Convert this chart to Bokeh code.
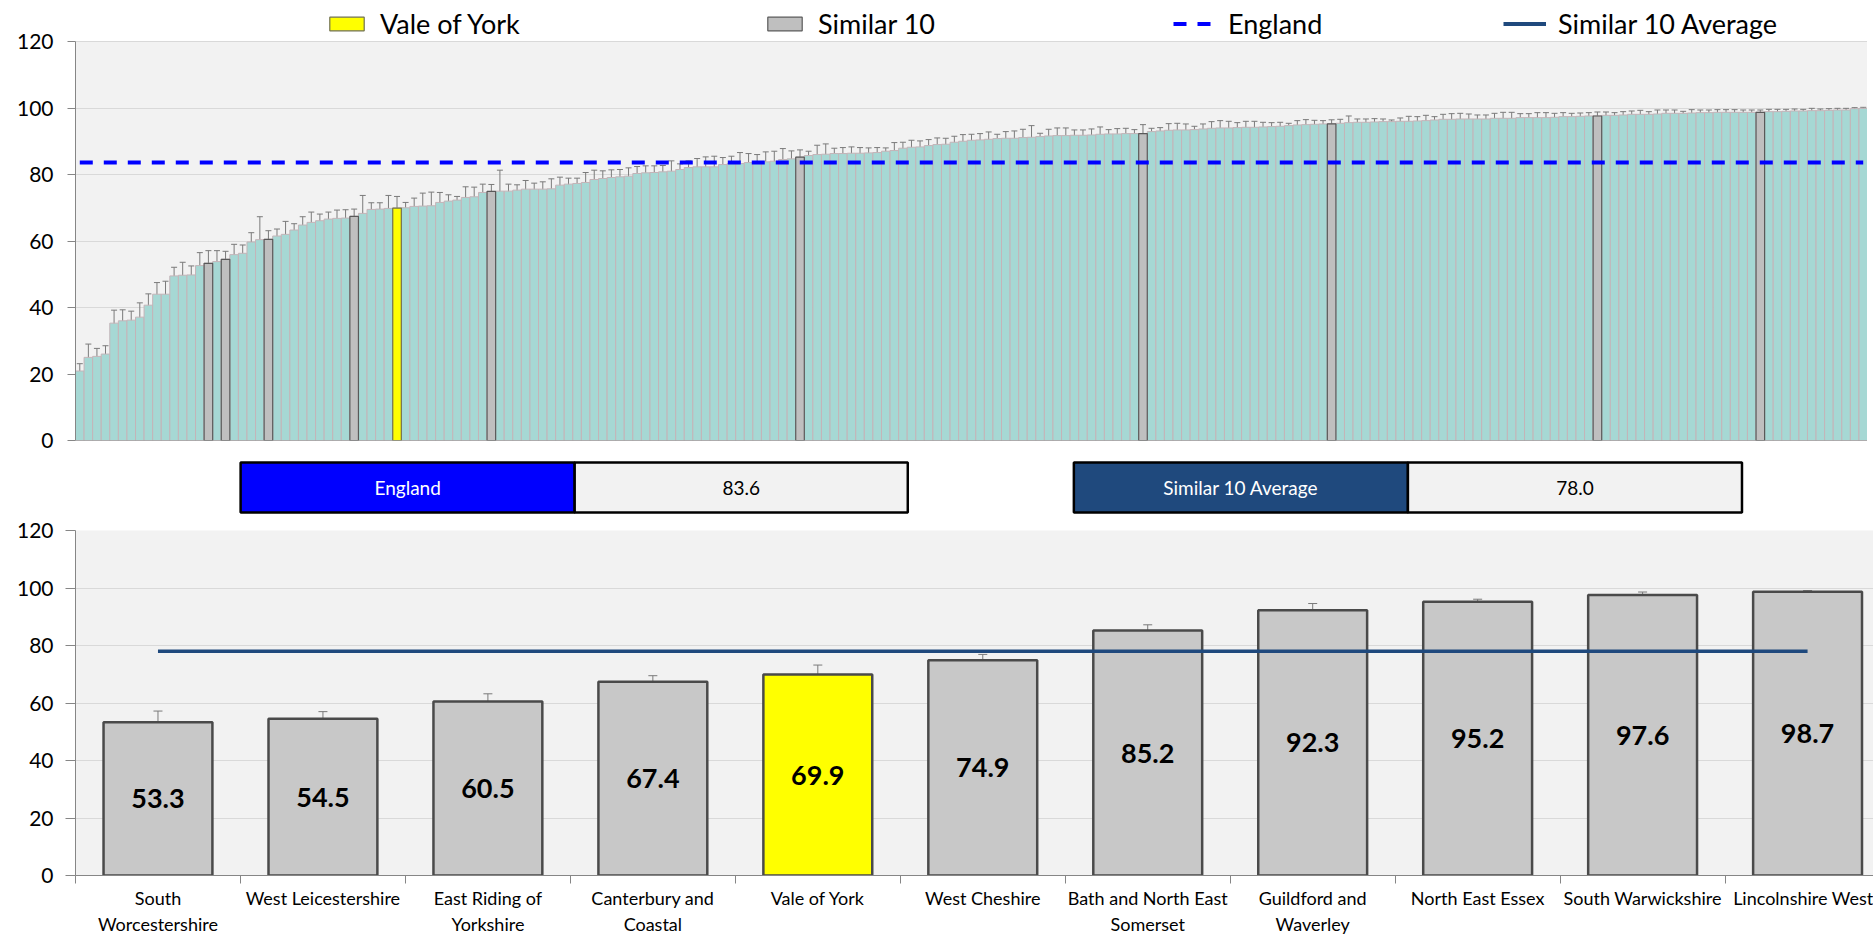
from bokeh.plotting import figure
from bokeh.models import (ColumnDataSource, Whisker, TeeHead, Legend, LegendItem,
                          Range1d, FixedTicker, Span, BoxAnnotation)
from bokeh.layouts import column
from bokeh.embed import file_html
from bokeh.resources import INLINE
from bokeh.core.properties import value

FONT = "Lato"

# ---------------- data ----------------
all_values = [
    20.9, 25.0, 25.3, 26.0, 35.3, 36.0, 36.2, 37.1, 40.7, 44.0,
    44.0, 49.5, 49.7, 49.8, 52.6, 53.3, 53.8, 54.5, 55.9, 56.3,
    59.7, 60.4, 60.5, 61.5, 62.0, 63.3, 64.8, 65.6, 66.1, 66.6,
    66.8, 66.9, 67.4, 68.3, 69.5, 69.6, 69.8, 69.9, 70.0, 70.4,
    70.5, 70.6, 71.6, 72.0, 72.3, 73.1, 73.3, 74.6, 74.9, 75.0,
    75.0, 75.3, 75.6, 75.6, 75.6, 75.7, 76.8, 77.1, 77.3, 77.6,
    78.5, 78.8, 79.1, 79.3, 79.5, 80.3, 80.5, 80.6, 80.8, 81.0,
    81.5, 82.1, 82.3, 82.3, 82.3, 83.0, 83.3, 83.3, 83.6, 83.7,
    83.8, 84.0, 84.5, 84.7, 85.2, 85.7, 86.0, 86.1, 86.3, 86.3,
    86.4, 86.4, 86.5, 86.6, 87.0, 87.2, 87.9, 88.2, 88.3, 88.7,
    89.0, 89.1, 89.7, 90.0, 90.3, 90.4, 90.6, 90.8, 90.9, 90.9,
    91.1, 91.2, 91.4, 91.6, 91.7, 91.7, 91.8, 91.8, 91.9, 92.1,
    92.2, 92.2, 92.3, 92.3, 92.3, 92.9, 93.1, 93.3, 93.4, 93.4,
    93.5, 93.7, 93.9, 94.0, 94.0, 94.1, 94.2, 94.2, 94.3, 94.4,
    94.5, 94.7, 94.9, 95.0, 95.1, 95.2, 95.2, 95.4, 95.6, 95.7,
    95.7, 95.8, 95.9, 95.9, 96.0, 96.0, 96.1, 96.2, 96.4, 96.6,
    96.6, 96.7, 96.7, 96.7, 96.7, 96.9, 96.9, 96.9, 97.1, 97.1,
    97.1, 97.1, 97.2, 97.4, 97.4, 97.5, 97.6, 97.6, 97.8, 97.8,
    97.9, 98.1, 98.1, 98.1, 98.2, 98.4, 98.4, 98.4, 98.5, 98.6,
    98.6, 98.7, 98.7, 98.7, 98.7, 98.7, 98.7, 98.9, 98.9, 99.0,
    99.1, 99.1, 99.2, 99.2, 99.3, 99.4, 99.4, 99.8, 99.9,
]
all_err = [
    2.2, 4.0, 2.4, 2.5, 3.9, 3.3, 2.7, 4.3, 3.4, 3.5,
    3.9, 2.6, 3.9, 2.7, 3.9, 3.8, 3.3, 2.4, 3.1, 2.5,
    2.8, 6.9, 2.6, 2.1, 3.9, 1.9, 2.5, 3.1, 2.0, 2.1,
    2.5, 2.5, 2.2, 5.4, 2.0, 1.9, 3.9, 3.5, 1.6, 2.5,
    3.9, 4.1, 3.0, 1.9, 1.1, 3.2, 2.9, 2.5, 2.1, 6.3,
    2.1, 1.6, 2.6, 1.8, 2.2, 3.0, 2.4, 1.8, 1.6, 3.0,
    2.8, 2.3, 2.3, 2.2, 2.5, 2.1, 2.1, 2.0, 1.9, 3.1,
    1.7, 2.0, 2.5, 3.0, 3.2, 2.1, 2.2, 3.3, 2.7, 2.3,
    3.0, 3.0, 3.3, 2.4, 2.2, 1.3, 2.8, 3.1, 1.6, 1.8,
    1.9, 1.7, 1.5, 1.5, 1.0, 2.4, 1.8, 2.1, 1.8, 1.8,
    2.0, 1.8, 1.8, 2.0, 1.8, 1.9, 2.2, 1.3, 2.0, 2.2,
    2.5, 3.5, 1.0, 2.0, 2.3, 2.3, 1.6, 1.6, 1.8, 2.2,
    1.3, 1.6, 1.6, 1.2, 2.7, 1.0, 1.0, 2.0, 2.0, 1.8,
    1.0, 1.5, 2.0, 2.2, 2.0, 1.5, 1.8, 1.8, 1.4, 1.2,
    1.2, 0.7, 1.3, 1.5, 1.2, 1.0, 1.25, 1.2, 2.0, 1.0,
    1.0, 1.0, 0.8, 0.5, 1.0, 1.5, 1.3, 1.6, 1.0, 1.5,
    1.7, 1.7, 1.5, 1.2, 1.2, 1.5, 1.8, 1.8, 1.2, 1.2,
    1.5, 1.5, 1.2, 1.2, 1.0, 1.0, 1.0, 1.2, 1.0, 0.8,
    1.0, 1.0, 1.2, 0.8, 1.2, 1.0, 1.0, 0.6, 1.0, 0.8,
    0.8, 0.8, 0.8, 0.8, 0.7, 0.7, 0.7, 0.7, 0.7, 0.6,
    0.6, 0.5, 0.7, 0.5, 0.5, 0.5, 0.5, 0.3, 0.3,
]

similar_names = ["South\nWorcestershire", "West Leicestershire", "East Riding of\nYorkshire",
                 "Canterbury and\nCoastal", "Vale of York", "West Cheshire",
                 "Bath and North East\nSomerset", "Guildford and\nWaverley", "North East Essex",
                 "South Warwickshire", "Lincolnshire West"]
similar_values = [53.3, 54.5, 60.5, 67.4, 69.9, 74.9, 85.2, 92.3, 95.2, 97.6, 98.7]
similar_lower = [49.5, 52.2, 57.9, 65.2, 66.3, 72.7, 82.8, 89.2, 93.6, 96.2, 97.7]
similar_upper = [57.2, 57.0, 63.2, 69.5, 73.2, 76.9, 87.2, 94.6, 96.1, 98.6, 99.1]
similar_rank = [15, 17, 22, 32, 37, 48, 84, 124, 146, 177, 196]
highlight = "Vale of York"

england_value = 83.6
similar_avg = 78.0
legend_labels = ["Vale of York", "Similar 10", "England", "Similar 10 Average"]
y_ticks = [0, 20, 40, 60, 80, 100, 120]
Y_MAX = 120

# ---------------- styles ----------------
TEAL = "#A6D8D4"
TEAL_LINE = "#C4B4B8"
GREY = "#BFBFBF"
YELLOW = "#FFFF00"
ENG_BLUE = "#0000FF"
AVG_BLUE = "#1F497D"
AXIS_GREY = "#868686"
GRID = "#D9D9D9"
PLOT_BG = "#F2F2F2"
ERR = "#7A7A7A"


def style_y(p, standoff, tick_out):
    p.yaxis.ticker = FixedTicker(ticks=y_ticks)
    p.yaxis.bounds = (0, Y_MAX)
    p.yaxis.major_label_text_font = FONT
    p.yaxis.major_label_text_font_size = "21px"
    p.yaxis.major_label_text_color = "black"
    p.yaxis.major_label_standoff = standoff
    p.yaxis.major_tick_out = tick_out
    p.yaxis.major_tick_in = 0
    p.yaxis.minor_tick_line_color = None
    p.yaxis.axis_line_color = AXIS_GREY
    p.yaxis.major_tick_line_color = AXIS_GREY
    p.ygrid.grid_line_color = GRID
    p.xgrid.grid_line_color = None
    p.border_fill_color = "white"
    p.outline_line_color = None


# ---------------- top chart ----------------
# frame spans the legend strip (41 px) plus the 0..120 plot area (399 px)
n = len(all_values)
idx = list(range(n))
PLOT_H, LEG_H = 399, 41
top = figure(frame_width=1792, frame_height=PLOT_H + LEG_H, min_border_left=75, min_border_right=0,
             min_border_top=0, min_border_bottom=12,
             x_range=Range1d(-0.5, n - 0.5), y_range=Range1d(0, Y_MAX * (PLOT_H + LEG_H) / PLOT_H),
             output_backend="svg", toolbar_location=None)
style_y(top, 14, 8)
top.background_fill_color = "white"
top.add_layout(BoxAnnotation(bottom=0, top=Y_MAX, fill_color=PLOT_BG, fill_alpha=1,
                             line_color=None, level="image"))
top.xaxis.visible = False
top.add_layout(Span(location=0, dimension="width", line_color=AXIS_GREY, line_width=1))

top.vbar(x=idx, top=all_values, width=1, fill_color=TEAL, line_color=TEAL_LINE, line_width=1)

grey_x = [r for r, nm in zip(similar_rank, similar_names) if nm != highlight]
grey_top = [all_values[r] for r in grey_x]
hl_x = [r for r, nm in zip(similar_rank, similar_names) if nm == highlight]
hl_top = [all_values[r] for r in hl_x]
r_grey = top.vbar(x=grey_x, top=grey_top, width=1, fill_color=GREY, line_color="#595959", line_width=1.2)
r_hl = top.vbar(x=hl_x, top=hl_top, width=1, fill_color=YELLOW, line_color="#707050", line_width=1.2)

err_src = ColumnDataSource(dict(x=idx,
                                upper=[v + e for v, e in zip(all_values, all_err)],
                                lower=[v - e for v, e in zip(all_values, all_err)]))
top.add_layout(Whisker(source=err_src, base="x", upper="upper", lower="lower",
                       line_color=ERR, line_width=1,
                       upper_head=TeeHead(size=6, line_color=ERR, line_width=1),
                       lower_head=TeeHead(size=6, line_color=ERR, line_width=1)))

r_eng = top.line(x=[0, n - 1], y=[england_value, england_value], line_color=ENG_BLUE,
                 line_width=4, line_dash="13 11")
# legend-only entry: the Similar 10 Average line is drawn in the lower chart
r_avg_leg = top.line(x=[float("nan")], y=[similar_avg], line_color=AVG_BLUE, line_width=4)

leg_x = [250, 688, 1098, 1428]
for lab, rend, lx in zip(legend_labels, [r_hl, r_grey, r_eng, r_avg_leg], leg_x):
    lg = Legend(items=[LegendItem(label=lab, renderers=[rend])], location=(lx, PLOT_H + 1),
                orientation="horizontal", label_text_font=FONT, label_text_font_size="27px",
                label_text_color="black", glyph_width=43, glyph_height=17, label_standoff=12,
                padding=0, margin=0, background_fill_alpha=0, border_line_color=None,
                label_height=30)
    top.add_layout(lg)

# ---------------- middle boxes ----------------
mid = figure(width=1873, height=63, x_range=Range1d(0, 1873), y_range=Range1d(63, 0),
             min_border=0, x_axis_type=None, y_axis_type=None,
             output_backend="svg", toolbar_location=None)
mid.grid.visible = False
mid.outline_line_color = None
mid.background_fill_color = "white"
mid.border_fill_color = "white"
mid.quad(left=[172, 520, 1040, 1388], right=[520, 867, 1388, 1736],
         top=[10, 10, 10, 10], bottom=[60, 60, 60, 60],
         fill_color=[ENG_BLUE, PLOT_BG, AVG_BLUE, PLOT_BG], line_color="black", line_width=2.5)
mid.text(x=[346, 693.5, 1214, 1562], y=[35, 35, 35, 35],
         text=["England", f"{england_value:.1f}", "Similar 10 Average", f"{similar_avg:.1f}"],
         text_color=["white", "black", "white", "black"], text_align="center",
         text_baseline="middle", text_font=value(FONT), text_font_size="19px")

# ---------------- bottom chart ----------------
m = len(similar_names)
bx = list(range(m))
bot = figure(frame_width=1803, frame_height=345, min_border_left=70, min_border_right=0,
             min_border_top=15, min_border_bottom=63,
             x_range=Range1d(-0.5, 10.43), y_range=Range1d(0, Y_MAX),
             output_backend="svg", toolbar_location=None)
style_y(bot, 12, 10)
bot.background_fill_color = PLOT_BG
colors = [YELLOW if nm == highlight else "#C8C8C8" for nm in similar_names]
bot.vbar(x=bx, top=similar_values, width=0.66, fill_color=colors, line_color="#4A4A4A", line_width=2.5)
bsrc = ColumnDataSource(dict(x=bx, upper=similar_upper, lower=similar_lower))
bot.add_layout(Whisker(source=bsrc, base="x", upper="upper", lower="lower",
                       line_color=ERR, line_width=1,
                       upper_head=TeeHead(size=9, line_color=ERR, line_width=1),
                       lower_head=TeeHead(size=9, line_color=ERR, line_width=1)))
bot.line(x=[0, m - 1], y=[similar_avg, similar_avg], line_color=AVG_BLUE, line_width=3.5)
bot.text(x=bx, y=[v / 2 for v in similar_values], text=[f"{v:.1f}" for v in similar_values],
         text_align="center", text_baseline="middle", text_font=value(FONT),
         text_font_size="27px", text_font_style="bold", text_color="black")

bot.xaxis.ticker = FixedTicker(ticks=bx, minor_ticks=[i - 0.5 for i in range(m + 1)])
bot.xaxis.major_label_overrides = {i: nm for i, nm in enumerate(similar_names)}
bot.xaxis.major_tick_out = 0
bot.xaxis.major_tick_in = 0
bot.xaxis.major_tick_line_color = None
bot.xaxis.minor_tick_out = 8
bot.xaxis.minor_tick_in = 0
bot.xaxis.minor_tick_line_color = AXIS_GREY
bot.xaxis.axis_line_color = AXIS_GREY
bot.xaxis.major_label_text_font = FONT
bot.xaxis.major_label_text_font_size = "18px"
bot.xaxis.major_label_text_color = "black"
bot.xaxis.major_label_standoff = 3

layout = column(top, mid, bot, spacing=0)
open("out.html", "w").write(file_html(layout, INLINE))
